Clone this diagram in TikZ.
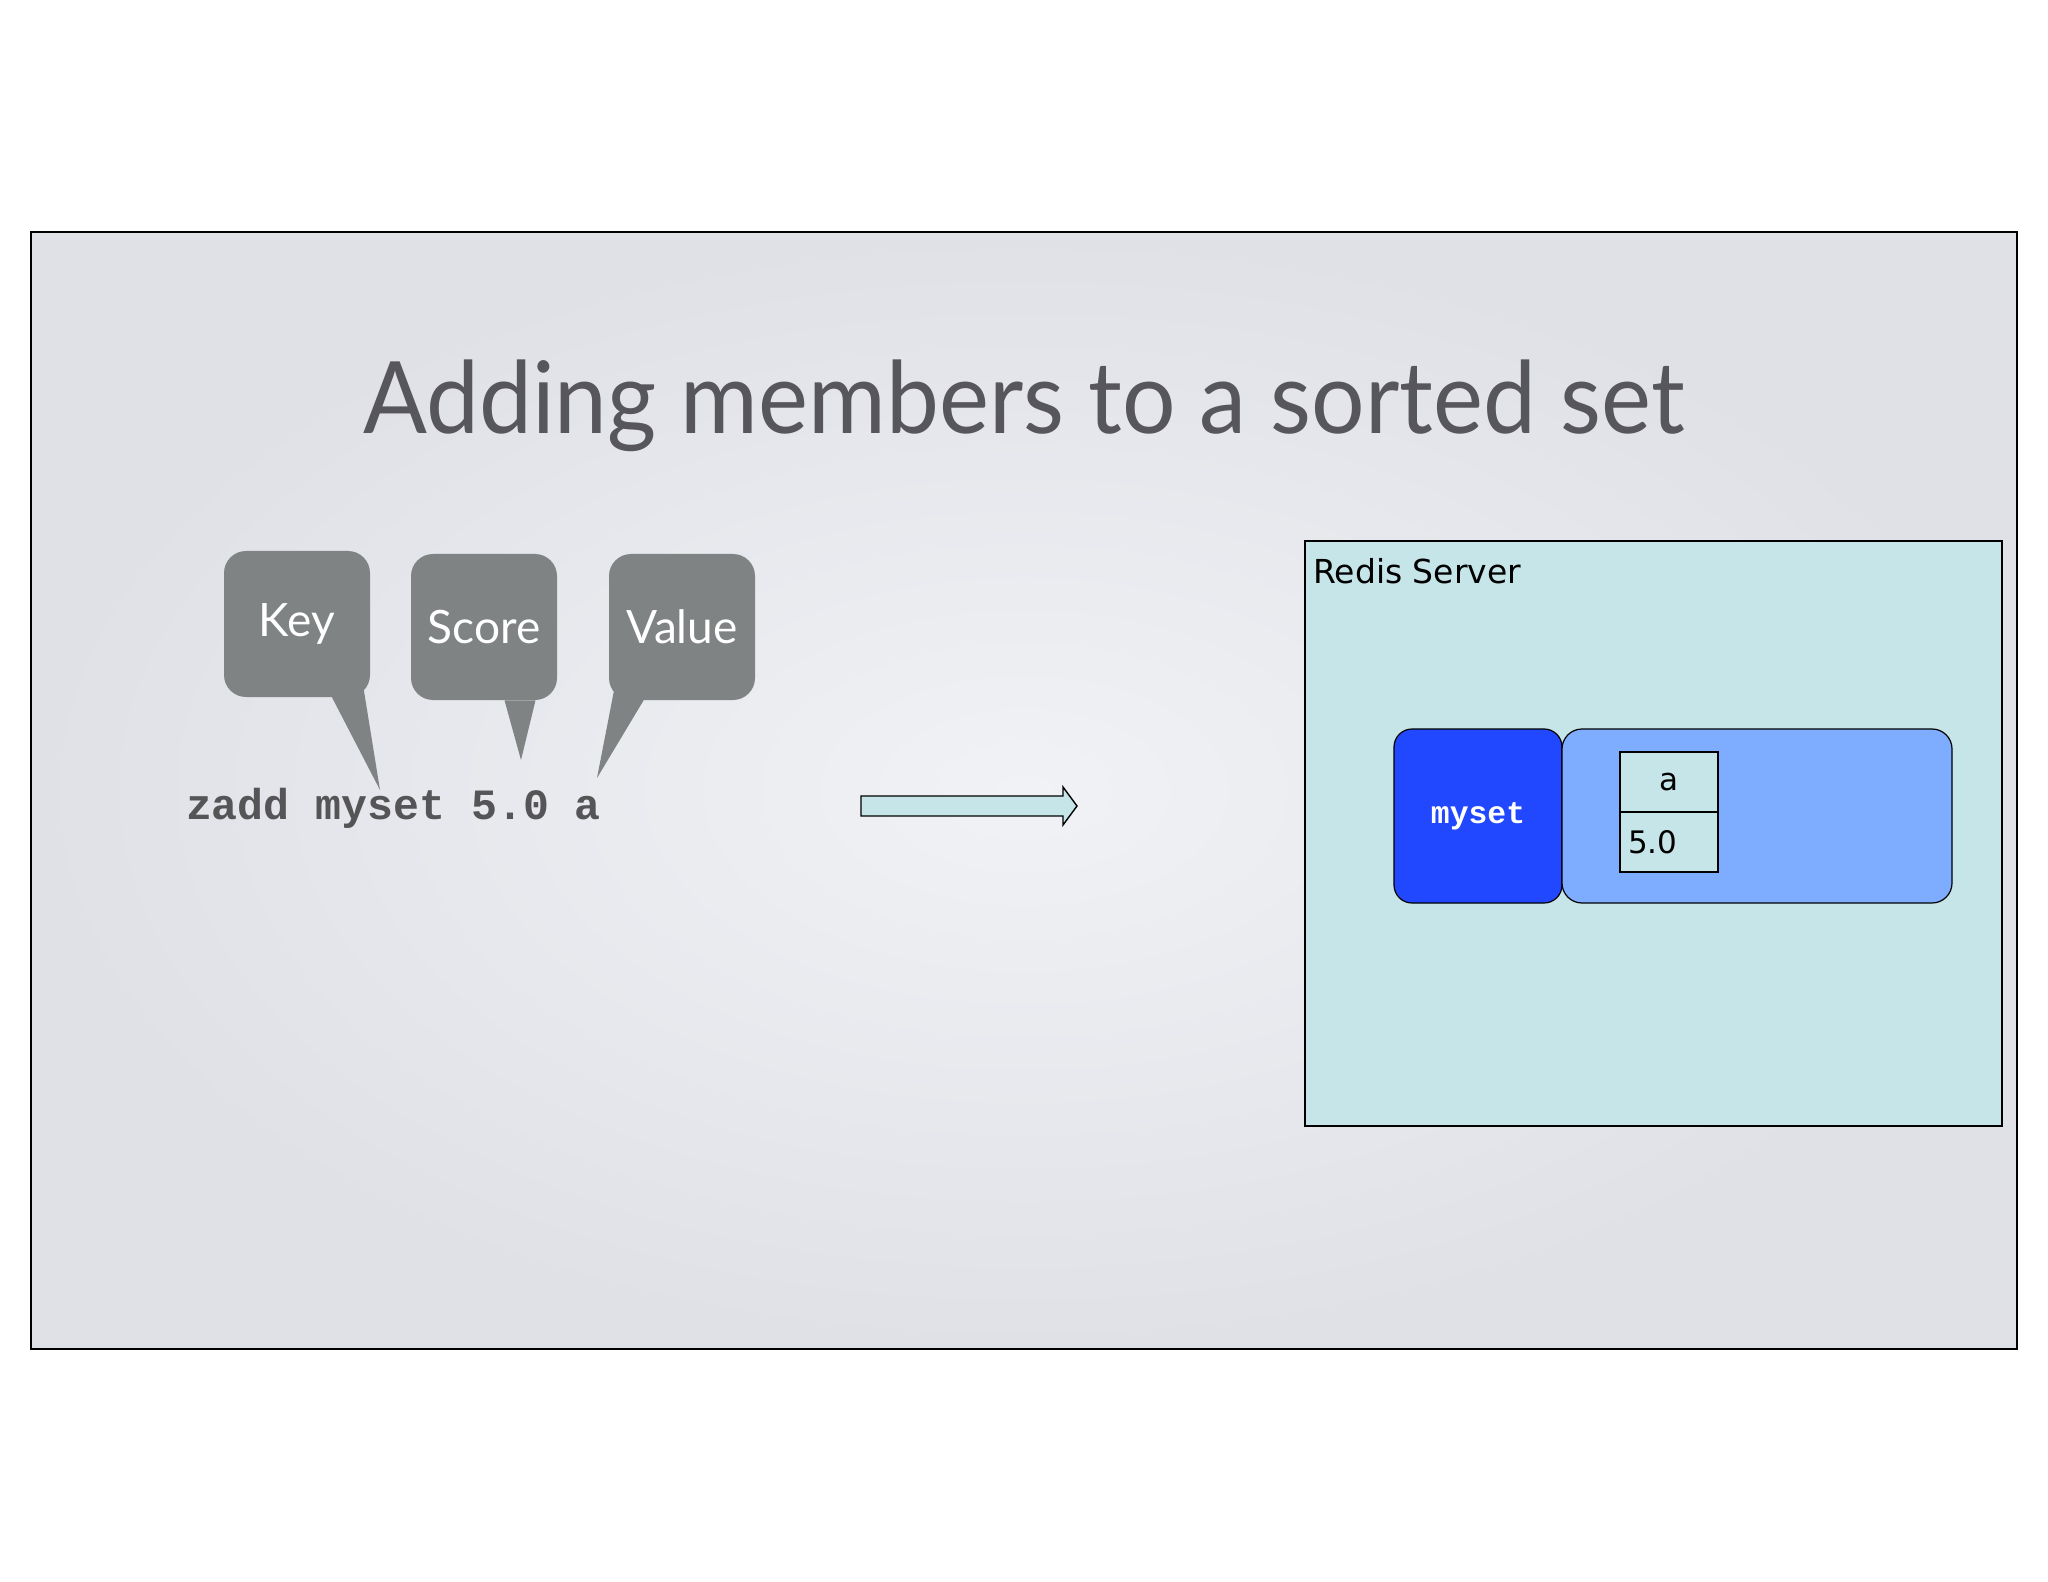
\documentclass[tikz,border=0pt]{standalone}
\usepackage{fontspec}
\setmainfont{Lato}
\newfontfamily\verdanafont{DejaVu Sans}
\newfontfamily\courierfont{Liberation Mono}
\usetikzlibrary{arrows.meta}

\definecolor{slidein}{HTML}{F1F2F5}
\definecolor{slideout}{HTML}{E0E1E7}
\definecolor{titlegray}{HTML}{56565C}
\definecolor{bubblegray}{HTML}{7F8383}
\definecolor{cmdgray}{HTML}{555557}
\definecolor{paleteal}{HTML}{C5E5E9}
\definecolor{keyblue}{HTML}{2148FF}
\definecolor{setblue}{HTML}{7EADFF}

\begin{document}
\begin{tikzpicture}[x=0.5pt, y=-0.5pt]
\tikzstyle{bubble} = [rectangle, rounded corners=11pt, fill=bubblegray, text=white, minimum width=73pt, minimum height=73pt, font=\fontsize{23}{28}\selectfont]
\tikzstyle{tail} = [fill=bubblegray]
\tikzstyle{box} = [rectangle, draw=black, line width=0.6pt]
\tikzstyle{cell} = [box, fill=paleteal, minimum width=49pt, minimum height=30pt, inner xsep=4pt, text width=41pt, font=\verdanafont\fontsize{15.5}{18}\selectfont]
\useasboundingbox (0,0) rectangle (2048,1582);
% -----------------------------------
% Slide
\shade[inner color=slidein, outer color=slideout] (31,232) rectangle (2017,1349);
\draw[line width=0.7pt] (31,232) rectangle (2017,1349);
\node[text=titlegray, anchor=base, font=\fontsize{50}{60}\selectfont] (title) at (1024,434) {\scalebox{0.945}[1]{Adding members to a sorted set}};

% -----------------------------------
% Command with callouts
\node[anchor=base west, text=cmdgray, font=\courierfont\bfseries\fontsize{21.6}{26}\selectfont] (cmd) at (179,819) {zadd myset 5.0 a};

\node[bubble] (key) at (297,624) {Key};
\node[bubble] (score) at (484,627) {Score};
\node[bubble] (value) at (682,627) {Value};

\coordinate (keytip) at (380,790);
\coordinate (scoretip) at (521,760);
\coordinate (valuetip) at (597,778);

\fill[tail] ([xshift=17.5pt]key.south) -- ([xshift=-3.5pt, yshift=5pt]key.south east) -- (keytip) -- cycle;
\fill[tail] ([xshift=10.25pt]score.south) -- ([xshift=25.75pt]score.south) -- (scoretip) -- cycle;
\fill[tail] ([xshift=3pt, yshift=6.5pt]value.south west) -- ([xshift=17.5pt]value.south west) -- (valuetip) -- cycle;

% -----------------------------------
% Block arrow
\draw[line width=0.7pt, fill=paleteal] (861,796) -- (1063,796) -- (1063,787) -- (1077,806) -- (1063,825) -- (1063,816) -- (861,816) -- cycle;

% -----------------------------------
% Redis server
\node[box, fill=paleteal, minimum width=348.5pt, minimum height=292.5pt] (server) at (1653.5,833.5) {};
\node[anchor=base west, inner sep=0pt, font=\verdanafont\fontsize{16.5}{20}\selectfont] (servername) at (1313,583) {Redis Server};

\node[box, rounded corners=9pt, fill=keyblue, text=white, minimum width=84pt, minimum height=87pt, font=\courierfont\bfseries\fontsize{15.7}{19}\selectfont] (myset) at (1478,816) {myset};
\node[box, rounded corners=10pt, fill=setblue, minimum width=195pt, minimum height=87pt] (members) at (1757,816) {};

\node[cell, align=center] (member) at (1669,782) {a};
\node[cell, align=left] (memberscore) at (1669,842) {5.0};
% -----------------------------------
\end{tikzpicture}
\end{document}
